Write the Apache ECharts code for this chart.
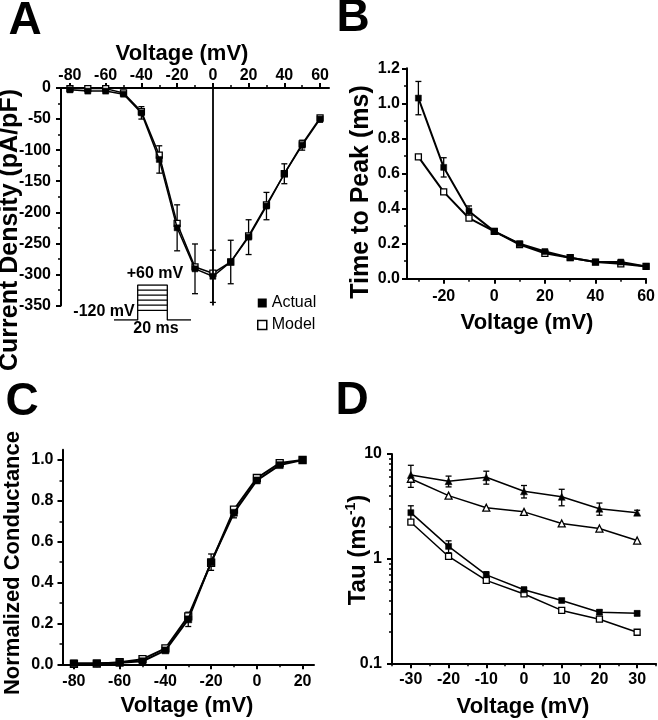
<!DOCTYPE html>
<html><head><meta charset="utf-8">
<script src="https://cdn.jsdelivr.net/npm/echarts@6/dist/echarts.min.js"></script>
<style>html,body{margin:0;padding:0;background:#fff}#c{width:658px;height:720px}</style>
</head><body><div id="c"></div>
<script>
const FONT = "'Liberation Sans', Arial, Helvetica, sans-serif";

// ---- Panel A: current density vs voltage ----
const voltA = [-80,-70,-60,-50,-40,-30,-20,-10,0,10,20,30,40,50,60];
const actualA = [-3,-5,-5,-10,-40,-115,-225,-291,-303,-280,-240,-190,-138,-92,-50];
const modelA = [-1,-1,-1,-8,-38,-108,-218,-288,-298,-280,-238,-188,-138,-90,-48];
const errA = [3,3,3,3,10,22,37,40,42,35,28,22,16,8,5];
const xTicksA = [-80,-60,-40,-20,0,20,40,60];
const xMinorA = [-70,-50,-30,-10,10,30,50];

// ---- Panel B: time to peak ----
const voltB = [-30,-20,-10,0,10,20,30,40,50,60];
const actualB = [1.03,0.635,0.385,0.27,0.2,0.155,0.12,0.095,0.095,0.07];
const modelB = [0.695,0.495,0.345,0.27,0.195,0.145,0.12,0.095,0.085,0.07];
const errB = [0.095,0.055,0.03,0.01,0.01,0.01,0.005,0.005,0.01,0.005];
const xTicksB = [-20,0,20,40,60];
const xMinorB = [-30,-10,10,30,50];

// ---- Panel C: normalized conductance ----
const voltC = [-80,-70,-60,-50,-40,-30,-20,-10,0,10,20];
const actualC = [0.005,0.005,0.008,0.015,0.068,0.22,0.5,0.742,0.9,0.975,1.0];
const modelC = [0.002,0.003,0.01,0.025,0.078,0.235,0.497,0.757,0.912,0.985,1.0];
const errC = [0.01,0.01,0.01,0.01,0.01,0.035,0.04,0.025,0.012,0.008,0.005];
const xTicksC = [-80,-60,-40,-20,0,20];
const xMinorC = [-70,-50,-30,-10,10];
const yTicksC = [0,0.2,0.4,0.6,0.8,1.0];
const yMinorC = [0.1,0.3,0.5,0.7,0.9];

// ---- Panel D: tau ----
const voltD = [-30,-20,-10,0,10,20,30];
const slowActualD = [6.3,5.5,6.0,4.4,3.9,3.0,2.75];
const slowErrD = [1.5,0.65,0.85,0.6,0.7,0.4,0.15];
const slowModelD = [5.8,4.0,3.07,2.8,2.17,1.94,1.49];
const fastActualD = [2.75,1.31,0.70,0.504,0.398,0.308,0.30];
const fastErrD = [0.45,0.17,0.05,0.03,0.015,0.015,0.015];
const fastModelD = [2.23,1.05,0.62,0.46,0.32,0.264,0.198];
const xTicksD = [-30,-20,-10,0,10,20,30];
const xMinorD = [-35,-25,-15,-5,5,15,25,35];
const yMinorD = [0.2,0.3,0.4,0.5,0.6,0.7,0.8,0.9,2,3,4,5,6,7,8,9];

// ---- Inset: voltage protocol ----
const holdV = -120;
const stepLevels = [60,34,8,-18,-44,-70];
const preMs = 16, stepMs = 20, postMs = 16;

const chart = echarts.init(document.getElementById('c'));

function mainAxis(gridIndex, position, min, max, ticks, margin, fmt, extra) {
  const ax = {
    type:'value', gridIndex, position, min, max,
    axisLine:{show:true, onZero:false, lineStyle:{color:'#000', width:2}},
    axisTick:{show:true, inside:false, length:5, lineStyle:{color:'#000', width:2}},
    axisLabel:{show:true, margin, color:'#000', fontSize:16, fontWeight:'bold', fontFamily:FONT,
      formatter: fmt || (v => String(v))},
    splitLine:{show:false}
  };
  if (ticks) { ax.axisTick.customValues = ticks; ax.axisLabel.customValues = ticks; }
  return Object.assign(ax, extra || {});
}
function minorAxis(gridIndex, position, min, max, ticks) {
  return {type:'value', gridIndex, position, min, max,
    axisLine:{show:false, onZero:false}, axisLabel:{show:false}, splitLine:{show:false},
    axisTick:{show:true, inside:false, length:3, customValues: ticks, lineStyle:{color:'#000', width:1.5}}};
}
function hiddenAxis(gridIndex, min, max) {
  return {type:'value', gridIndex, min, max, show:false, splitLine:{show:false}};
}
const f1 = v => v.toFixed(1);

const xAxis = [
  mainAxis(0,'top',-85,65,xTicksA,4),
  minorAxis(0,'top',-85,65,xMinorA),
  mainAxis(1,'bottom',-34.5,60,xTicksB,10),
  minorAxis(1,'bottom',-34.5,60,xMinorB),
  mainAxis(2,'bottom',-85,25,xTicksC,9),
  minorAxis(2,'bottom',-85,25,xMinorC),
  mainAxis(3,'bottom',-35,35,xTicksD,8),
  minorAxis(3,'bottom',-35,35,xMinorD),
  hiddenAxis(4,-preMs,stepMs+postMs)
];
const yAxis = [
  mainAxis(0,'left',-350,0,null,10,null,{interval:50, minorTick:{show:true, splitNumber:2, length:3, lineStyle:{color:'#000', width:1.5}}}),
  mainAxis(1,'left',0,1.2,null,7,f1,{interval:0.2, minorTick:{show:true, splitNumber:2, length:3, lineStyle:{color:'#000', width:1.5}}}),
  mainAxis(2,'left',0,1.05,yTicksC,9,f1),
  minorAxis(2,'left',0,1.05,yMinorC),
  mainAxis(3,'left',0.1,10,null,10,v => String(v),{type:'log', logBase:10}),
  // log-decade minor ticks placed on a log10-space companion axis spanning the same decades
  minorAxis(3,'left',-1,1,yMinorD.map(v => Math.log10(v))),
  hiddenAxis(4,holdV,stepLevels[0])
];

function lineS(name, xi, yi, xs, ys, symbol, filled, size, width) {
  return {type:'line', name, xAxisIndex:xi, yAxisIndex:yi, data: xs.map((x,i)=>[x, ys[i]]),
    symbol, symbolSize:size, showSymbol:true, silent:true,
    lineStyle:{color:'#000', width},
    itemStyle:{color: filled ? '#000' : '#fff', borderColor:'#000', borderWidth: filled ? 0.5 : 1.3},
    z: filled ? 4 : 3};
}
function errS(xi, yi, xs, ys, es) {
  return {type:'custom', xAxisIndex:xi, yAxisIndex:yi, silent:true, z:2,
    data: xs.map((x,i)=>[x, ys[i], es[i]]),
    encode:{x:0, y:1},
    renderItem(params, api) {
      const x = api.value(0), y = api.value(1), e = api.value(2);
      const top = api.coord([x, y + e]), bot = api.coord([x, y - e]);
      const w = 3, style = {stroke:'#000', lineWidth:1.3, fill:null};
      return {type:'group', children:[
        {type:'line', shape:{x1:top[0], y1:top[1], x2:bot[0], y2:bot[1]}, style},
        {type:'line', shape:{x1:top[0]-w, y1:top[1], x2:top[0]+w, y2:top[1]}, style},
        {type:'line', shape:{x1:bot[0]-w, y1:bot[1], x2:bot[0]+w, y2:bot[1]}, style}
      ]};
    }};
}
function protoS(data) {
  return {type:'line', xAxisIndex:8, yAxisIndex:6, data, symbol:'none', silent:true,
    lineStyle:{color:'#000', width:1.3}, z:3};
}

const series = [
  // A
  errS(0,0,voltA,actualA,errA),
  Object.assign(lineS('Actual',0,0,voltA,actualA,'rect',true,6,1.5), {
    markLine:{silent:true, symbol:'none', label:{show:false}, lineStyle:{color:'#000', width:1.8, type:'solid'}, data:[{xAxis:0}]}
  }),
  lineS('Model',0,0,voltA,modelA,'rect',false,6,1.5),
  // B
  errS(2,1,voltB,actualB,errB),
  lineS('Actual',2,1,voltB,actualB,'rect',true,6,2),
  lineS('Model',2,1,voltB,modelB,'rect',false,6,2),
  // C
  errS(4,2,voltC,actualC,errC),
  lineS('Actual',4,2,voltC,actualC,'rect',true,7,2),
  lineS('Model',4,2,voltC,modelC,'rect',false,7,2),
  // D
  errS(6,4,voltD,slowActualD,slowErrD),
  errS(6,4,voltD,fastActualD,fastErrD),
  lineS('Slow actual',6,4,voltD,slowActualD,'triangle',true,7,1.5),
  lineS('Slow model',6,4,voltD,slowModelD,'triangle',false,7,1.5),
  lineS('Fast actual',6,4,voltD,fastActualD,'rect',true,6,1.5),
  lineS('Fast model',6,4,voltD,fastModelD,'rect',false,6,1.5),
  // Inset protocol
  protoS([[-preMs,holdV],[0,holdV],[0,stepLevels[0]],[stepMs,stepLevels[0]],[stepMs,holdV],[stepMs+postMs,holdV]])
].concat(stepLevels.slice(1).map(v => protoS([[0,v],[stepMs,v]])));

function txt(text, x, y, size, rot, weight) {
  return {type:'text', x, y, rotation: rot || 0, silent:true, z:10,
    style:{text, x:0, y:0, font:`${weight || 'bold'} ${size}px ${FONT}`, fill:'#000',
      align:'center', verticalAlign:'middle', textAlign:'center', textVerticalAlign:'middle'}};
}
const R = Math.PI / 2;
const graphic = [
  txt('A', 25, 21, 46), txt('B', 353, 18, 46), txt('C', 22, 402, 46), txt('D', 352, 401, 46),
  txt('Voltage (mV)', 182, 54, 22),
  txt('Voltage (mV)', 527, 322.5, 22),
  txt('Voltage (mV)', 187, 705.5, 22),
  txt('Voltage (mV)', 523, 706.5, 22),
  txt('Current Density (pA/pF)', 10, 230, 25, R),
  txt('Time to Peak (ms)', 361, 192, 25, R),
  txt('Normalized Conductance', 13, 563, 22, R),
  {type:'text', x:357, y:550, rotation:R, silent:true, z:10,
    style:{text:'{a|Tau (ms}{s|-1}{a|)}', x:0, y:0, align:'center', verticalAlign:'middle',
      textAlign:'center', textVerticalAlign:'middle',
      rich:{a:{fontSize:24, fontWeight:'bold', fontFamily:FONT, fill:'#000', color:'#000', lineHeight:26, verticalAlign:'bottom'},
            s:{fontSize:14, fontWeight:'bold', fontFamily:FONT, fill:'#000', color:'#000', lineHeight:14, verticalAlign:'top'}}}},
  txt('+60 mV', 155, 274, 16),
  txt('-120 mV', 104, 312, 16),
  txt('20 ms', 156, 329, 16)
];

chart.setOption({
  animation:false,
  backgroundColor:'#fff',
  grid:[
    {left:61, top:88, width:268, height:217.5},
    {left:407, top:68.3, width:242.5, height:210.4},
    {left:62.5, top:449.8, width:251.5, height:214.5},
    {left:392, top:454, width:264, height:209.3},
    {left:114, top:285, width:77, height:35}
  ],
  xAxis, yAxis, series, graphic,
  legend:{show:true, orient:'vertical', left:252, top:290, itemWidth:9, itemHeight:9, itemGap:6,
    selectedMode:false, textStyle:{fontSize:16, fontFamily:FONT, color:'#000'},
    data:[
      {name:'Actual', icon:'rect', itemStyle:{color:'#000', borderWidth:0}},
      {name:'Model', icon:'rect', itemStyle:{color:'#fff', borderColor:'#000', borderWidth:1.5}}
    ]}
});
</script>
</body></html>
